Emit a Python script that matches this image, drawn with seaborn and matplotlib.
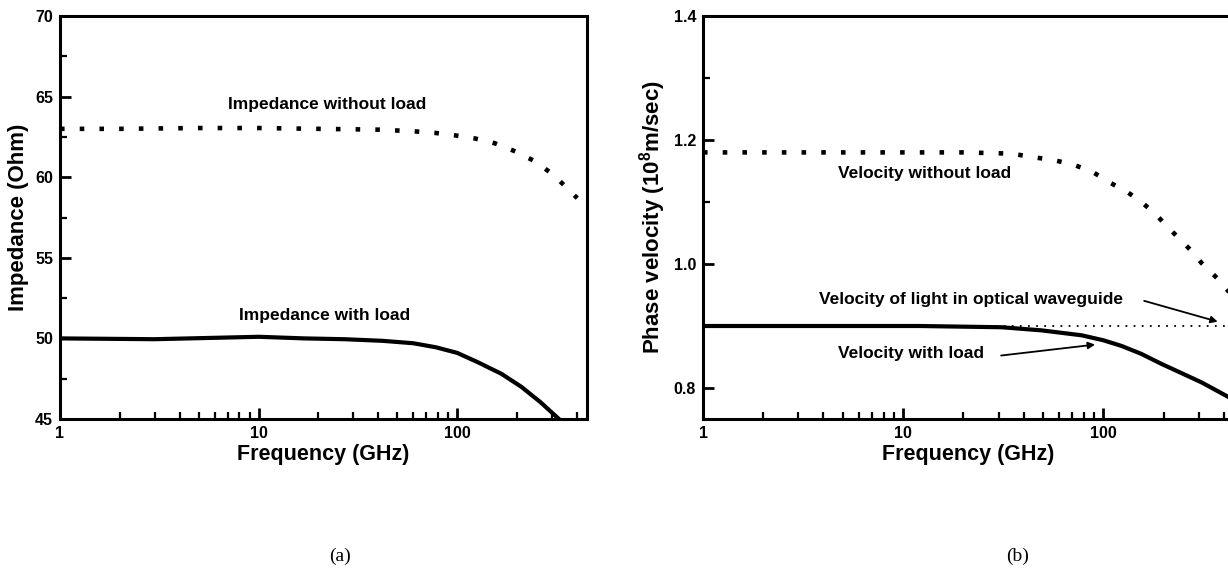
import numpy as np
import pandas as pd
import matplotlib
matplotlib.use("Agg")
import matplotlib.pyplot as plt
from matplotlib.ticker import LogLocator, FixedLocator, NullFormatter, FuncFormatter
import seaborn as sns

# impedance panel (a)
freq_imp_noload = [1, 2, 5, 10, 20, 40, 60, 77, 97, 123, 155, 196, 245, 305, 402]
imp_noload = [63.0, 63.0, 63.05, 63.05, 63.0, 62.95, 62.85, 62.75, 62.6, 62.4, 62.1, 61.6, 61.0, 60.15, 58.7]
freq_imp_load = [1, 3, 10, 17, 27, 42, 60, 78, 100, 128, 167, 210, 262, 325, 380]
imp_load = [50.0, 49.95, 50.1, 50.0, 49.95, 49.85, 49.7, 49.45, 49.1, 48.5, 47.8, 47.0, 46.05, 45.0, 44.0]

# phase velocity panel (b)
freq_vel_noload = [1, 5, 20, 35, 45, 56, 71, 87, 107, 132, 155, 182, 209, 240, 276, 311, 382, 450]
vel_noload = [1.18, 1.18, 1.18, 1.178, 1.172, 1.168, 1.160, 1.150, 1.132, 1.116, 1.100, 1.081,
              1.060, 1.041, 1.021, 1.001, 0.973, 0.945]
freq_light = [1, 460]
vel_light = [0.9, 0.9]
freq_vel_load = [1, 12, 31, 49, 78, 100, 123, 155, 195, 246, 310, 425, 460]
vel_load = [0.9, 0.9, 0.898, 0.893, 0.885, 0.877, 0.868, 0.855, 0.839, 0.824, 0.809, 0.785, 0.778]

sns.set_style("white")
plt.rcParams['font.family'] = ['Liberation Sans', 'DejaVu Sans']
plt.rcParams['font.weight'] = 'bold'
plt.rcParams['text.color'] = 'black'
plt.rcParams['axes.labelcolor'] = 'black'
plt.rcParams['xtick.color'] = 'black'
plt.rcParams['ytick.color'] = 'black'
plt.rcParams['mathtext.fontset'] = 'custom'
plt.rcParams['mathtext.rm'] = 'Liberation Sans:bold'
plt.rcParams['mathtext.bf'] = 'Liberation Sans:bold'
plt.rcParams['mathtext.default'] = 'bf'

fig = plt.figure(figsize=(12.28, 5.74), dpi=100)
ax1 = fig.add_axes([60 / 1228, 155 / 574, 527 / 1228, 403 / 574])
ax2 = fig.add_axes([703 / 1228, 155 / 574, 531 / 1228, 403 / 574])

dots = (0, (1, 3.3))

sns.lineplot(x=freq_imp_noload, y=imp_noload, ax=ax1, color='black', linewidth=3.3, linestyle=dots)
sns.lineplot(x=freq_imp_load, y=imp_load, ax=ax1, color='black', linewidth=3.0)

sns.lineplot(x=freq_vel_noload, y=vel_noload, ax=ax2, color='black', linewidth=3.3, linestyle=dots)
sns.lineplot(x=freq_light, y=vel_light, ax=ax2, color='black', linewidth=1.3, linestyle=(0, (1, 3.5)))
sns.lineplot(x=freq_vel_load, y=vel_load, ax=ax2, color='black', linewidth=3.0)

for ax in (ax1, ax2):
    ax.set_xscale('log')
    ax.set_xlim(1, 450)
    ax.xaxis.set_major_locator(FixedLocator([1, 10, 100]))
    ax.xaxis.set_major_formatter(FuncFormatter(lambda v, p: '%d' % v))
    ax.xaxis.set_minor_locator(LogLocator(base=10, subs=np.arange(2, 10)))
    ax.xaxis.set_minor_formatter(NullFormatter())
    ax.tick_params(which='major', direction='in', length=8, width=2, labelsize=11.5,
                   bottom=True, left=True, top=False, right=False, pad=5)
    ax.tick_params(which='minor', direction='in', length=5, width=1.6,
                   bottom=True, left=True, top=False, right=False)
    for s in ax.spines.values():
        s.set_linewidth(2.2)
        s.set_color('black')
    ax.set_xlabel('Frequency (GHz)', fontsize=15.5, fontweight='bold', labelpad=2)

ax1.set_ylim(45, 70)
ax1.set_yticks([45, 50, 55, 60, 65, 70])
ax1.set_yticks(np.arange(47.5, 70, 5), minor=True)
ax1.set_ylabel('Impedance (Ohm)', fontsize=16, fontweight='bold', labelpad=4)

ax2.set_ylim(0.75, 1.4)
ax2.set_yticks([0.8, 1.0, 1.2, 1.4])
ax2.set_yticklabels(['0.8', '1.0', '1.2', '1.4'])
ax2.set_yticks([0.9, 1.1, 1.3], minor=True)
ax2.set_ylabel('Phase velocity (10$^{8}$m/sec)', fontsize=16, fontweight='bold', labelpad=4)

for ax in (ax1, ax2):
    for lab in ax.get_xticklabels() + ax.get_yticklabels():
        lab.set_fontweight('bold')

ax1.text(22, 64.5, 'Impedance without load', ha='center', va='center', fontsize=12.5, fontweight='bold')
ax1.text(21.5, 51.4, 'Impedance with load', ha='center', va='center', fontsize=12.5, fontweight='bold')

ax2.text(12.8, 1.146, 'Velocity without load', ha='center', va='center', fontsize=12.5, fontweight='bold')
ax2.annotate('Velocity of light in optical waveguide', xy=(373, 0.907), xytext=(21.8, 0.943),
             ha='center', va='center', fontsize=12.5, fontweight='bold',
             arrowprops=dict(arrowstyle='-|>', lw=1.3, color='black', mutation_scale=10,
                             shrinkA=0, shrinkB=0, relpos=(1.07, 0.4)))
ax2.annotate('Velocity with load', xy=(91, 0.870), xytext=(10.9, 0.856),
             ha='center', va='center', fontsize=12.5, fontweight='bold',
             arrowprops=dict(arrowstyle='-|>', lw=1.3, color='black', mutation_scale=10,
                             shrinkA=0, shrinkB=0, relpos=(1.12, 0.35)))

fig.text(340 / 1228, 1 - 556 / 574, '(a)', ha='center', va='center', fontsize=14,
         family=['Liberation Serif', 'DejaVu Serif'], fontweight='normal')
fig.text(1018 / 1228, 1 - 556 / 574, '(b)', ha='center', va='center', fontsize=14,
         family=['Liberation Serif', 'DejaVu Serif'], fontweight='normal')

fig.savefig('out.png', dpi=100)
